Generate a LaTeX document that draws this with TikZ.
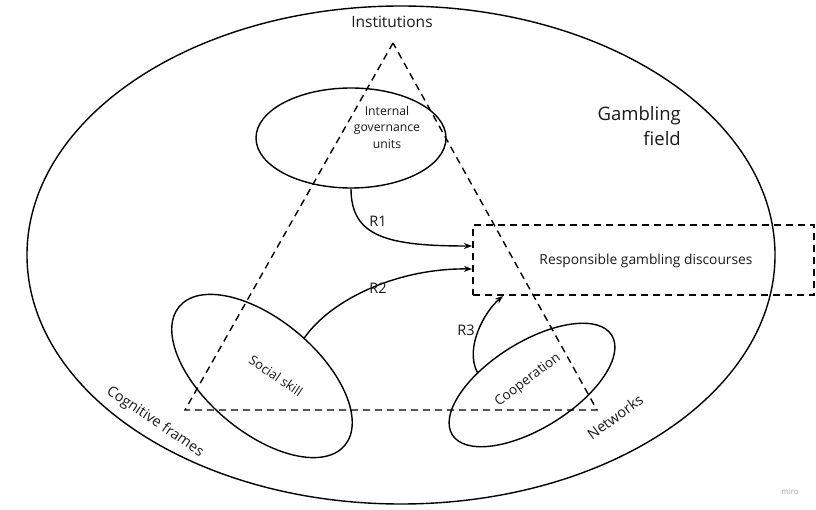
\documentclass[tikz,border=0pt]{standalone}
\usepackage{fontspec}
\setmainfont{Open Sans}
\usetikzlibrary{shapes.geometric,arrows.meta,calc}
\tikzset{
  solidline/.style={line width=1.4pt, draw=black},
  dashline/.style={line width=1.4pt, draw=black, dash pattern=on 7pt off 5pt},
  oval/.style={solidline, ellipse, inner sep=0pt, fill=none},
  lbl/.style={font=\fontsize{14.5}{17}\selectfont, text=black!90, inner sep=0pt},
  inlbl/.style={font=\fontsize{13.5}{16}\selectfont, text=black!90, inner sep=0pt},
  conn/.style={solidline, -{Stealth[length=8pt,width=6pt]}},
}
\begin{document}
\begin{tikzpicture}[x=1pt,y=-1pt]
\useasboundingbox (0,0) rectangle (816,510);
% field
\node[oval, minimum width=748pt, minimum height=498pt] (field) at (401,255) {};
% discourse box
\node[dashline, draw, rectangle, minimum width=341pt, minimum height=70pt, inner sep=0pt] (rgd) at (643.5,260) {};
\node[inlbl, font=\fontsize{13.8}{16}\selectfont] (rgdtext) at (646,261) {Responsible gambling discourses};
% triangle
\coordinate (inst) at (393,43);
\coordinate (cog) at (185,410);
\coordinate (net) at (597,410);
\draw[dashline] (inst) -- (cog) -- (net) -- cycle;
% ellipses
\node[oval, minimum width=190pt, minimum height=100pt] (gov) at (351,138) {};
\node[oval, minimum width=216pt, minimum height=112pt, rotate=-40] (soc) at (262,376) {};
\node[oval, minimum width=188pt, minimum height=86pt, rotate=32] (coop) at (532,385) {};
% texts
\node[lbl, font=\fontsize{15.5}{18}\selectfont] (insttext) at (392,22) {Institutions};
\node[font=\fontsize{18.5}{25}\selectfont, align=right, anchor=east, inner sep=0pt, text=black!90] (fieldtext) at (681,126) {Gambling\\field};
\node[font=\fontsize{12.2}{16.5}\selectfont, align=center, inner sep=0pt, text=black!90] (govtext) at (387,127) {Internal\\governance\\units};
\node[inlbl, font=\fontsize{13}{15}\selectfont, rotate=-34] (soctext) at (276,376) {Social skill};
\node[inlbl, rotate=37] (cooptext) at (528,380) {Cooperation};
\node[lbl, rotate=-34] (cogtext) at (155,422) {Cognitive frames};
\node[lbl, rotate=36] (nettext) at (615,417) {Networks};
\node[font=\fontsize{8}{10}\selectfont, text=black!35, inner sep=0pt] (miro) at (790,492) {miro};
% connectors
\coordinate (r1end) at (472,246);
\coordinate (r2end) at (472,269);
\coordinate (r3end) at (503,296);
\draw[conn] (gov.south) .. controls +(0,48) and +(-85,0) .. (r1end);
\draw[conn] (soc.82) .. controls +(28,-40) and +(-72,-1) .. (r2end);
\draw[conn] (coop.135) .. controls +(-13,-25) and +(-18,15) .. (r3end);
\node[lbl] (r1) at (378,221) {R1};
\node[lbl] (r2) at (378,288) {R2};
\node[lbl] (r3) at (466,330) {R3};
\end{tikzpicture}
\end{document}
